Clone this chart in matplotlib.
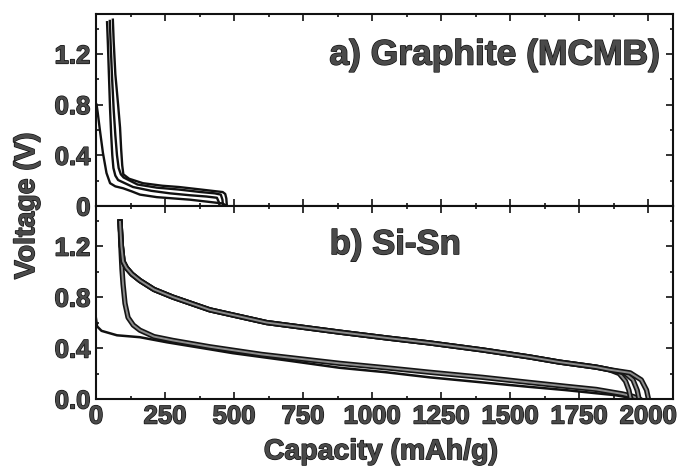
import matplotlib
matplotlib.use("Agg")
import matplotlib.pyplot as plt
import matplotlib.patheffects as pe
from matplotlib.ticker import MultipleLocator, FixedLocator

plt.rcParams['font.family'] = ['Liberation Sans', 'DejaVu Sans']
plt.rcParams['font.weight'] = 'bold'

# ---------------- data: a) Graphite (MCMB) ----------------
gr_first_x = [2, 6, 14, 25, 38, 51, 70, 98, 130, 159, 220, 280, 340, 400, 459, 474]
gr_first_v = [0.80, 0.74, 0.60, 0.42, 0.26, 0.18, 0.155, 0.14, 0.115, 0.09, 0.07, 0.06, 0.05, 0.035, 0.02, 0.0]

gr_c2_x = [40, 43, 47, 51, 55, 59, 63, 70, 80, 134, 200, 268, 340, 400, 438, 445, 448]
gr_c2_v = [1.45, 1.28, 1.02, 0.76, 0.56, 0.40, 0.30, 0.24, 0.205, 0.15, 0.12, 0.10, 0.085, 0.075, 0.065, 0.03, 0.0]

gr_c3_x = [50, 53, 58, 64, 70, 76, 82, 90, 100, 150, 220, 300, 380, 430, 452, 458, 460]
gr_c3_v = [1.46, 1.28, 1.02, 0.76, 0.56, 0.40, 0.30, 0.25, 0.225, 0.17, 0.145, 0.13, 0.11, 0.10, 0.09, 0.05, 0.0]

gr_c4_x = [61, 64, 70, 80, 87, 91, 95, 99, 120, 170, 240, 300, 380, 459, 468, 472, 474]
gr_c4_v = [1.47, 1.30, 1.04, 0.80, 0.62, 0.45, 0.32, 0.25, 0.215, 0.18, 0.16, 0.15, 0.13, 0.11, 0.095, 0.06, 0.0]

# ---------------- data: b) Si-Sn ----------------
si_first_x = [0, 4, 20, 76, 159, 257, 412, 495, 700, 882, 1050, 1208, 1400, 1570, 1700, 1812, 1880, 1920, 1942]
si_first_v = [0.63, 0.57, 0.535, 0.50, 0.485, 0.445, 0.39, 0.36, 0.30, 0.245, 0.21, 0.17, 0.13, 0.095, 0.07, 0.045, 0.03, 0.015, 0.0]

si_low_x = [87, 90, 94, 98, 105, 116, 135, 159, 210, 278, 412, 600, 882, 1050, 1208, 1400, 1570, 1700, 1812, 1906, 1945, 1967]
si_low_v = [1.39, 1.20, 1.02, 0.90, 0.75, 0.64, 0.58, 0.54, 0.49, 0.46, 0.41, 0.35, 0.28, 0.245, 0.21, 0.17, 0.13, 0.10, 0.075, 0.04, 0.02, 0.0]

si_up1_x = [87, 92, 98, 110, 130, 159, 210, 278, 412, 618, 882, 1050, 1208, 1400, 1570, 1678, 1812, 1859, 1895, 1918, 1930, 1937]
si_up1_v = [1.39, 1.20, 1.08, 1.03, 0.98, 0.93, 0.86, 0.80, 0.70, 0.60, 0.525, 0.48, 0.44, 0.385, 0.33, 0.29, 0.25, 0.23, 0.20, 0.14, 0.07, 0.0]

si_up2_x = [87, 92, 98, 110, 130, 159, 210, 278, 412, 618, 882, 1050, 1208, 1400, 1570, 1678, 1812, 1859, 1915, 1945, 1960, 1967]
si_up2_v = [1.39, 1.20, 1.08, 1.03, 0.98, 0.93, 0.86, 0.80, 0.70, 0.60, 0.525, 0.48, 0.44, 0.385, 0.33, 0.29, 0.25, 0.23, 0.205, 0.15, 0.07, 0.0]

si_up3_x = [87, 92, 98, 110, 130, 159, 210, 278, 412, 618, 882, 1050, 1208, 1400, 1570, 1678, 1812, 1859, 1935, 1975, 1994, 2001]
si_up3_v = [1.39, 1.20, 1.08, 1.03, 0.98, 0.93, 0.86, 0.80, 0.70, 0.60, 0.525, 0.48, 0.44, 0.385, 0.33, 0.29, 0.25, 0.23, 0.205, 0.15, 0.07, 0.0]

x_ticks = [0, 250, 500, 750, 1000, 1250, 1500, 1750, 2000]
y_ticks = [0.0, 0.4, 0.8, 1.2]
top_ylabels = ['0', '0.4', '0.8', '1.2']
bot_ylabels = ['0.0', '0.4', '0.8', '1.2']
x_lim = (0, 2090)
y_lim = (0, 1.515)

TXT = '#4a4a4a'
txt_fx = [pe.withStroke(linewidth=1.0, foreground='#111111')]
thick_fx = [pe.Stroke(linewidth=3.8, foreground='#151515'), pe.Normal()]

fig = plt.figure(figsize=(6.79, 4.71), dpi=100)
ax1 = fig.add_axes([0.1414, 0.5626, 0.8498, 0.4077])
ax2 = fig.add_axes([0.1414, 0.1529, 0.8498, 0.4097])

# top panel lines
ax1.plot(gr_first_x, gr_first_v, color='#111111', lw=1.7)
for xs, vs in [(gr_c2_x, gr_c2_v), (gr_c3_x, gr_c3_v), (gr_c4_x, gr_c4_v)]:
    ax1.plot(xs, vs, color='#111111', lw=1.7)

# bottom panel lines
ax2.plot(si_first_x, si_first_v, color='#111111', lw=1.8)
for xs, vs in [(si_low_x, si_low_v), (si_up1_x, si_up1_v), (si_up2_x, si_up2_v), (si_up3_x, si_up3_v)]:
    ax2.plot(xs, vs, color='#8c8c8c', lw=1.4, path_effects=thick_fx)

for ax, ylabs in [(ax1, top_ylabels), (ax2, bot_ylabels)]:
    ax.set_xlim(*x_lim)
    ax.set_ylim(*y_lim)
    ax.xaxis.set_major_locator(FixedLocator(x_ticks))
    ax.xaxis.set_minor_locator(MultipleLocator(125))
    ax.yaxis.set_major_locator(FixedLocator(y_ticks))
    ax.yaxis.set_minor_locator(MultipleLocator(0.2))
    ax.set_yticklabels(ylabs)
    ax.tick_params(which='both', direction='in', top=True, right=True,
                   width=1.2, color='#111111')
    ax.tick_params(which='major', length=5)
    ax.tick_params(which='minor', length=2.5)
    ax.tick_params(axis='both', labelsize=18.5, labelcolor=TXT, pad=4)
    for s in ax.spines.values():
        s.set_linewidth(1.5)
        s.set_color('#111111')
    for lab in ax.get_yticklabels() + ax.get_xticklabels():
        lab.set_fontweight('bold')
        lab.set_path_effects(txt_fx)

ax1.tick_params(axis='x', labelbottom=False)

ax1.text(0.977, 0.786, 'a) Graphite (MCMB)', transform=ax1.transAxes,
         ha='right', va='center', fontsize=25.5, fontweight='bold',
         color=TXT, path_effects=txt_fx)
ax2.text(0.405, 0.80, 'b) Si-Sn', transform=ax2.transAxes,
         ha='left', va='center', fontsize=25, fontweight='bold',
         color=TXT, path_effects=txt_fx)

fig.text(0.040, 0.563, 'Voltage (V)', rotation=90, ha='center', va='center',
         fontsize=20.5, fontweight='bold', color=TXT, path_effects=txt_fx)
fig.text(0.561, 0.040, 'Capacity (mAh/g)', ha='center', va='center',
         fontsize=20.5, fontweight='bold', color=TXT, path_effects=txt_fx)

fig.savefig('out.png', dpi=100)
